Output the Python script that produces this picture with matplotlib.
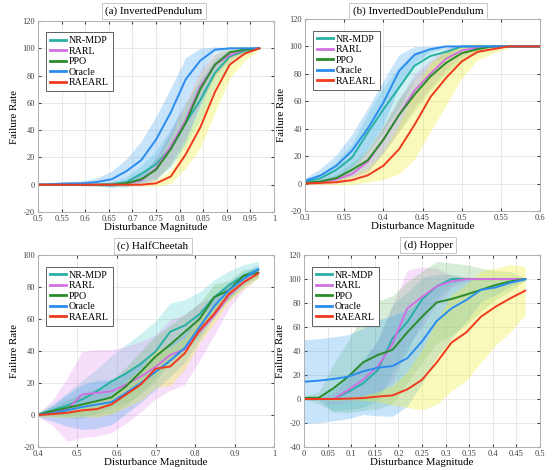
import matplotlib
matplotlib.use('Agg')
import matplotlib.pyplot as plt
import numpy as np

plt.rcParams['font.family'] = ['Liberation Serif', 'DejaVu Serif']

methods = ['NR-MDP', 'RARL', 'PPO', 'Oracle', 'RAEARL']
line_colors = ['#27b0a4', '#d070e0', '#2a8c2a', '#2b8cf0', '#f03a1e']
fill_colors = ['#3cc8c8', '#e080f0', '#60b860', '#4aa8f0', '#eeee40']
fill_alpha = [0.25, 0.25, 0.25, 0.3, 0.35]

# (a) InvertedPendulum
x_a = [0.5 + k / 32 for k in range(16)]
mean_a = [
    [0, 0, 0, 0, 0, 0.5, 2, 8, 15, 27, 45, 62, 82, 94, 98, 100],
    [0, 0, 0, 0, 0, 0, 1, 3, 12, 28, 47, 72, 88, 95, 99, 100],
    [0, 0, 0, 0, 0, 0, 1, 4, 11, 26, 45, 70, 88, 97, 99, 100],
    [0, 0.5, 1, 1, 2, 4, 10, 18, 33, 53, 77, 91, 99, 100, 100, 100],
    [0, 0, 0, 0, 0, 0, 0, 0, 1, 6, 22, 42, 68, 88, 96, 100],
]
std_a = [
    [0.5, 0.5, 0.5, 0.5, 1, 2, 4, 6, 10, 14, 16, 15, 10, 5, 2, 0.5],
    [0.5, 0.5, 0.5, 0.5, 0.5, 1, 2, 4, 8, 12, 14, 12, 8, 4, 2, 0.5],
    [0.5, 0.5, 0.5, 0.5, 0.5, 1, 2, 4, 8, 12, 14, 12, 8, 4, 2, 0.5],
    [0.5, 1, 1, 2, 3, 6, 9, 14, 17, 18, 16, 9, 2, 0.5, 0.5, 0.5],
    [0, 0, 0, 0, 0, 0, 0.5, 1, 2, 5, 10, 15, 15, 10, 5, 1],
]

# (b) InvertedDoublePendulum
x_b = [0.3 + 0.02 * k for k in range(16)]
mean_b = [
    [1, 4, 10, 19, 37, 54, 70, 86, 93, 96, 100, 100, 100, 100, 100, 100],
    [0.5, 1, 3, 7, 16, 32, 50, 68, 80, 91, 97, 99, 100, 100, 100, 100],
    [0.5, 1.5, 4, 10, 17, 32, 50, 65, 78, 88, 95, 98, 100, 100, 100, 100],
    [2, 6, 13, 24, 40, 59, 82, 94, 98, 100, 100, 100, 100, 100, 100, 100],
    [0, 0.5, 1, 2.5, 6, 13, 25, 43, 63, 77, 89, 96, 98, 100, 100, 100],
]
std_b = [
    [1, 3, 6, 10, 14, 16, 15, 10, 5, 3, 1, 0.5, 0.5, 0.5, 0.5, 0.5],
    [1, 2, 3, 5, 8, 10, 12, 12, 10, 8, 4, 2, 1, 0.5, 0.5, 0.5],
    [1, 2, 3, 5, 8, 10, 12, 12, 10, 8, 5, 3, 1, 0.5, 0.5, 0.5],
    [2, 5, 8, 12, 15, 16, 12, 6, 2, 1, 0.5, 0.5, 0.5, 0.5, 0.5, 0.5],
    [0.5, 1, 2, 3, 5, 10, 18, 25, 25, 20, 12, 6, 3, 1, 0.5, 0.5],
]

# (c) HalfCheetah
x_c = [0.4 + 0.56 * k / 15 for k in range(16)]
mean_c = [
    [0.5, 3, 6, 9.7, 14.8, 21, 26, 32, 39.6, 52, 56, 63, 73.6, 81, 87, 91],
    [0, 1.4, 3.5, 12.8, 13.8, 14.8, 19, 24, 30, 37.5, 41, 52, 62, 74.6, 83, 89],
    [0, 2.5, 4.5, 6.6, 8.7, 11, 18, 27, 36.5, 44, 52, 60, 73.6, 78, 87, 89],
    [0, 1, 3, 5, 6.6, 8, 13.8, 20, 27, 34, 42, 55, 68, 78, 85, 91],
    [0, 0.6, 1.4, 2.9, 3.7, 6.6, 12.8, 19, 28.9, 30.3, 38.6, 53, 63.3, 75.7, 82.9, 88.5],
]
std_c = [
    [1, 4, 8, 12, 14, 16, 18, 19, 19, 18, 16, 14, 11, 9, 7, 5],
    [1, 8, 20, 27, 27, 26, 24, 22, 20, 22, 22, 18, 12, 8, 5, 3],
    [1, 3, 5, 7, 8, 10, 12, 13, 13, 12, 11, 10, 8, 6, 4, 3],
    [1, 5, 10, 14, 15, 14, 13, 12, 11, 10, 9, 8, 7, 5, 4, 3],
    [1, 2, 3, 4, 5, 6, 8, 10, 12, 12, 10, 8, 6, 5, 4, 3],
]

# (d) Hopper
x_d = [k / 32 for k in range(16)]
mean_d = [
    [0, 0, 0, 6, 13, 24, 50.5, 64, 83, 94, 100, 100, 100, 100, 100, 100],
    [0, 0, 0, 7.5, 16, 27, 46, 75.5, 85, 94, 98, 100, 100, 100, 100, 100],
    [1, 1, 9, 18.6, 30.5, 36.7, 41, 55.5, 68.6, 80.5, 83.3, 87, 91, 95, 98, 100],
    [14.4, 15.3, 16.7, 18.6, 23, 26, 27.5, 34, 48, 65, 75.5, 82.5, 91, 93, 97, 99.7],
    [0, 0, 0, 0.3, 0.8, 2, 3, 8, 16, 30.5, 47, 55.5, 68.6, 77, 84, 90.3],
]
std_d = [
    [1, 1, 10, 15, 20, 25, 28, 25, 18, 10, 4, 1, 1, 1, 1, 1],
    [1, 1, 5, 10, 15, 22, 32, 32, 25, 15, 5, 2, 1, 1, 1, 1],
    [1, 5, 20, 30, 40, 45, 45, 42, 38, 34, 30, 25, 18, 12, 8, 1],
    [35, 35, 35, 35, 36, 40, 42, 40, 35, 30, 25, 18, 10, 6, 3, 1],
    [0.5, 0.5, 1, 1, 2, 4, 8, 15, 25, 35, 40, 40, 38, 32, 28, 20],
]


def draw_panel(fig, rect, x, means, stds, xticks, yticks, title, title_xy):
    ax = fig.add_axes(rect)
    # shaded bands first, then the mean curves on top
    for i in range(len(methods)):
        m = np.array(means[i])
        s = np.array(stds[i])
        ax.fill_between(x, m - s, m + s, color=fill_colors[i],
                        alpha=fill_alpha[i], linewidth=0)
    handles = []
    for i in range(len(methods)):
        h, = ax.plot(x, means[i], color=line_colors[i], linewidth=1.4,
                     label=methods[i])
        handles.append(h)

    ax.set_xlim(xticks[0], xticks[-1])
    ax.set_ylim(yticks[0], yticks[-1])
    ax.set_xticks(xticks)
    ax.set_yticks(yticks)
    ax.set_xticklabels(['{:g}'.format(t) for t in xticks])
    ax.set_yticklabels(['{:g}'.format(t) for t in yticks])
    ax.tick_params(direction='in', length=2, labelsize=6, colors='#404040',
                   pad=2, top=True, right=True)
    ax.grid(True, color='#e8e8e8', linewidth=0.7)
    ax.set_axisbelow(True)
    for sp in ax.spines.values():
        sp.set_color('#b0b0b0')
        sp.set_linewidth(0.7)

    ax.set_xlabel('Disturbance Magnitude', fontsize=7.8, labelpad=0)
    ax.set_ylabel('Failure Rate', fontsize=7.8)
    ax.yaxis.set_label_coords(-0.08, 0.5)

    leg = ax.legend(handles=handles, loc='upper left', fontsize=7.2,
                    bbox_to_anchor=(0.034, 0.94), borderaxespad=0,
                    labelspacing=0.15, handlelength=1.6, handletextpad=0.3,
                    borderpad=0.4, fancybox=False, framealpha=1,
                    edgecolor='#606060')
    leg.get_frame().set_linewidth(0.7)
    for line in leg.get_lines():
        line.set_linewidth(2)

    fig.text(title_xy[0], title_xy[1], title, fontsize=8, ha='center',
             va='center',
             bbox=dict(boxstyle='square,pad=0.3', facecolor='white',
                       edgecolor='#c8c8c8', linewidth=0.7))
    return ax


W, H = 554, 470
fig = plt.figure(figsize=(W / 100, H / 100), dpi=100)

draw_panel(fig, [38 / W, 1 - 212 / H, 236 / W, 191 / H], x_a, mean_a, std_a,
           [0.5 + 0.05 * k for k in range(11)], list(range(-20, 121, 20)),
           '(a) InvertedPendulum', (154 / W, 1 - 11 / H))
draw_panel(fig, [305 / W, 1 - 211 / H, 235 / W, 192 / H], x_b, mean_b, std_b,
           [0.3 + 0.05 * k for k in range(7)], list(range(-20, 121, 20)),
           '(b) InvertedDoublePendulum', (418 / W, 1 - 11 / H))
draw_panel(fig, [38 / W, 1 - 447 / H, 236 / W, 192 / H], x_c, mean_c, std_c,
           [0.4 + 0.1 * k for k in range(7)], list(range(-20, 101, 20)),
           '(c) HalfCheetah', (153 / W, 1 - 246 / H))
draw_panel(fig, [304 / W, 1 - 447 / H, 236 / W, 192 / H], x_d, mean_d, std_d,
           [0.05 * k for k in range(11)], list(range(-40, 121, 20)),
           '(d) Hopper', (428 / W, 1 - 245 / H))

fig.savefig('out.png', dpi=100)
